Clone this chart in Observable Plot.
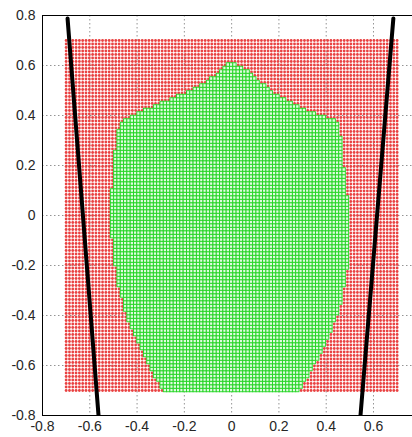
<!DOCTYPE html>
<html><head><meta charset="utf-8">
<script src="https://cdn.jsdelivr.net/npm/d3@7"></script>
<script src="https://cdn.jsdelivr.net/npm/@observablehq/plot@0.6"></script>
<style>body{margin:0;background:#fff}</style>
</head><body><div id="chart"></div>
<script>
// axis ticks
const xTicks = [-0.8, -0.6, -0.4, -0.2, 0, 0.2, 0.4, 0.6];
const yTicks = [-0.8, -0.6, -0.4, -0.2, 0, 0.2, 0.4, 0.6, 0.8];
const gridLinesX = [-0.6, -0.4, -0.2, 0, 0.2, 0.4, 0.6];
const gridLinesY = [-0.6, -0.4, -0.2, 0, 0.2, 0.4, 0.6];

// sampled grid of points
const gridMin = -0.7, gridMax = 0.7, gridCount = 101;

// boundary of the green (feasible) region
const topEdgeX = [-0.47, -0.40, -0.27, -0.187, -0.107, -0.005, 0.05, 0.177, 0.316, 0.456, 0.47];
const topEdgeY = [0.372, 0.405, 0.46, 0.49, 0.528, 0.615, 0.59, 0.49, 0.42, 0.372, 0.37];
const leftEdgeY = [-0.70, -0.61, -0.53, -0.41, -0.276, -0.196, -0.08, 0, 0.1, 0.26, 0.372];
const leftEdgeX = [-0.29, -0.343, -0.386, -0.44, -0.478, -0.49, -0.505, -0.508, -0.505, -0.49, -0.47];
const rightEdgeY = [-0.70, -0.54, -0.38, -0.18, 0, 0.208, 0.372];
const rightEdgeX = [0.287, 0.388, 0.456, 0.498, 0.5, 0.473, 0.456];

// black lines
const lineLeftX = [-0.694, -0.563];
const lineLeftY = [0.788, -0.80];
const lineRightX = [0.684, 0.545];
const lineRightY = [0.788, -0.80];

function interp(xs, ys, v) {
  if (v <= xs[0]) return ys[0];
  if (v >= xs[xs.length - 1]) return ys[ys.length - 1];
  for (let i = 1; i < xs.length; i++) {
    if (v <= xs[i]) {
      const t = (v - xs[i - 1]) / (xs[i] - xs[i - 1]);
      return ys[i - 1] + t * (ys[i] - ys[i - 1]);
    }
  }
}

const step = (gridMax - gridMin) / (gridCount - 1);
const red = [], green = [];
for (let i = 0; i < gridCount; i++) {
  for (let j = 0; j < gridCount; j++) {
    const x = gridMin + i * step, y = gridMin + j * step;
    const inside = y <= interp(topEdgeX, topEdgeY, x) &&
      x >= interp(leftEdgeY, leftEdgeX, y) &&
      x <= interp(rightEdgeY, rightEdgeX, y);
    (inside ? green : red).push({x, y});
  }
}
const h = step / 2;
const lineLeft = lineLeftX.map((x, i) => ({x, y: lineLeftY[i]}));
const lineRight = lineRightX.map((x, i) => ({x, y: lineRightY[i]}));

const fmt = d => String(d);
const chart = Plot.plot({
  width: 412, height: 437,
  marginTop: 15, marginLeft: 42, marginRight: 0, marginBottom: 22,
  style: {fontFamily: "'Liberation Sans', Arial, sans-serif", fontSize: "14px", color: "#262626", background: "#fff"},
  x: {domain: [-0.8, 0.765], label: null},
  y: {domain: [-0.8, 0.8], label: null},
  marks: [
    Plot.gridX(gridLinesX, {stroke: "#666", strokeOpacity: 0.7, strokeDasharray: "1.5,2.5"}),
    Plot.gridY(gridLinesY, {stroke: "#666", strokeOpacity: 0.7, strokeDasharray: "1.5,2.5"}),
    Plot.dot(red, {x: "x", y: "y", r: 1.4, fill: "#e83838", fillOpacity: 0.95, stroke: null}),
    Plot.rect(green, {x1: d => d.x - h, x2: d => d.x + h, y1: d => d.y - h, y2: d => d.y + h,
      fill: "#e0fbe0", stroke: "#22d422", strokeWidth: 0.9}),
    Plot.line(lineLeft, {x: "x", y: "y", stroke: "#000", strokeWidth: 4, clip: true}),
    Plot.line(lineRight, {x: "x", y: "y", stroke: "#000", strokeWidth: 4, clip: true}),
    Plot.ruleX([-0.8], {stroke: "#000", strokeWidth: 1}),
    Plot.ruleY([-0.8, 0.8], {stroke: "#000", strokeWidth: 1}),
    Plot.axisX(xTicks, {tickSize: 0, tickPadding: 6, tickFormat: fmt, label: null}),
    Plot.axisY(yTicks, {tickSize: 0, tickPadding: 7, tickFormat: fmt, label: null})
  ]
});
document.getElementById("chart").appendChild(chart);
</script>
</body></html>
